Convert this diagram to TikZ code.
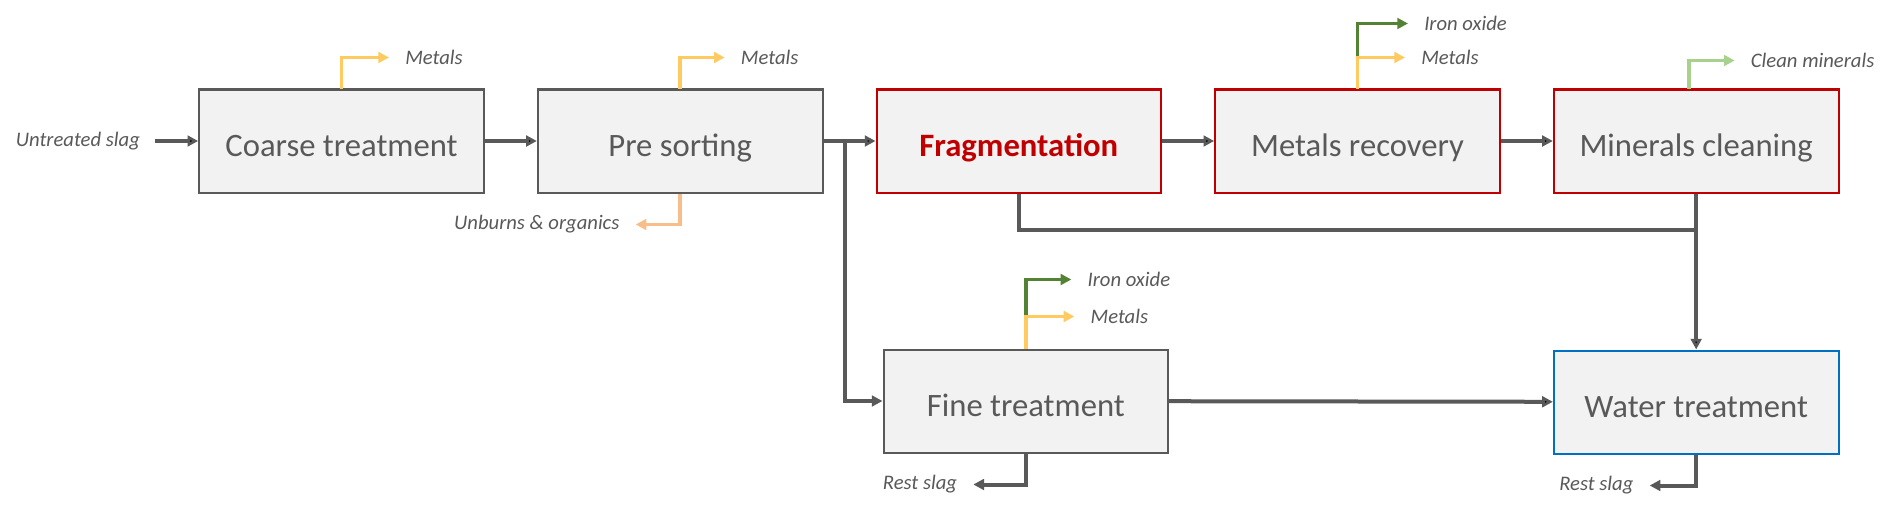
\documentclass[tikz,border=0pt]{standalone}
\usepackage{fontspec}
\setmainfont{Carlito}
\usepackage{xcolor}
\usepackage{tikz}
\usetikzlibrary{arrows.meta, positioning, calc}

\definecolor{boxfill}{HTML}{F2F2F2}
\definecolor{flowgray}{HTML}{595959}
\definecolor{fragred}{HTML}{C00000}
\definecolor{waterblue}{HTML}{0070C0}
\definecolor{metalyellow}{HTML}{FFCA5F}
\definecolor{irongreen}{HTML}{548235}
\definecolor{cleangreen}{HTML}{A9D18E}
\definecolor{unburnorange}{HTML}{F7BE8C}

\begin{document}
\begin{tikzpicture}[x=0.75pt,y=-0.75pt,>={Triangle[length=8pt,width=8pt]},
		node distance=39pt,
		process box/.style={draw=flowgray,line width=1.5pt,fill=boxfill,minimum width=213.5pt,
			minimum height=77.25pt,inner sep=0pt,text height=22.5pt,text depth=0pt,
			text=flowgray,font=\fontsize{24.5}{28}\selectfont},
		red box/.style={process box,draw=fragred},
		blue box/.style={process box,draw=waterblue},
		out label/.style={inner sep=0pt,text=flowgray,font=\fontsize{15.5}{18}\selectfont\itshape},
		flow/.style={draw=flowgray,line width=3pt},
		side/.style={line width=2.6pt,->,shorten >=12pt}]
		
		\useasboundingbox (0,0) rectangle (1901,510);
		
		\node[process box] (coarse) at (341.5,141) {Coarse treatment};
		\node[process box] (pre) [right=of coarse] {Pre sorting};
		\node[red box,text=fragred,font=\fontsize{24.5}{28}\selectfont\bfseries] (frag) [right=of pre] {Fragmentation};
		\node[red box] (metrec) [right=of frag] {Metals recovery};
		\node[red box] (minclean) [right=of metrec] {Minerals cleaning};
		\node[process box] (fine) [below=116.25pt of frag,xshift=5.25pt] {Fine treatment};
		\node[blue box] (water) [below=117pt of minclean] {Water treatment};
		
		\node[out label] (slag) [left=43.5pt of coarse] {Untreated slag};
		\node[out label,anchor=west] (metA) at ([shift={(63.5,-31)}]coarse.north) {Metals};
		\node[out label,anchor=west] (metB) at ([shift={(60.5,-31)}]pre.north) {Metals};
		\node[out label,anchor=east] (unburn) at ([shift={(-60.5,31)}]pre.south) {Unburns \& organics};
		\node[out label,anchor=west] (ironA) at ([shift={(66.5,-65)}]metrec.north) {Iron oxide};
		\node[out label,anchor=west] (metC) at ([shift={(63.5,-31)}]metrec.north) {Metals};
		\node[out label,anchor=west] (clean) at ([shift={(54.5,-28)}]minclean.north) {Clean minerals};
		\node[out label,anchor=west] (ironB) at ([shift={(61.5,-69)}]fine.north) {Iron oxide};
		\node[out label,anchor=west] (metD) at ([shift={(64.5,-32)}]fine.north) {Metals};
		\node[out label,anchor=east] (restA) at ([shift={(-68.5,31)}]fine.south) {Rest slag};
		\node[out label,anchor=east] (restB) at ([shift={(-62.5,31)}]water.south) {Rest slag};
		
		\coordinate (split) at ($(pre.east)!0.42!(frag.west)$);
		\coordinate (join) at ([yshift=-27pt]minclean.south);
		\coordinate (cleanfoot) at ([xshift=-5.5pt]minclean.north);
		
		\path[flow,->]
		(slag) edge[shorten <=11pt] (coarse)
		(coarse) edge (pre)
		(pre) edge (frag)
		(frag) edge (metrec)
		(metrec) edge (minclean)
		(minclean) edge (water)
		(fine) edge (water);
		
		\draw[flow] (frag.south) |- (join);
		\draw[flow,->] (split) |- (fine.west);
		\draw[flow,side,line width=3pt] (fine.south) |- (restA.east);
		\draw[flow,side,line width=3pt] (water.south) |- (restB.east);
		
		\draw[side,metalyellow] (coarse.north) |- (metA.west);
		\draw[side,metalyellow] (pre.north) |- (metB.west);
		\draw[side,unburnorange] (pre.south) |- (unburn.east);
		\draw[side,irongreen] (metrec.north) |- (ironA.west);
		\draw[side,metalyellow] (metrec.north) |- (metC.west);
		\draw[side,cleangreen] (cleanfoot) |- (clean.west);
		\draw[side,irongreen] (fine.north) |- (ironB.west);
		\draw[side,metalyellow] (fine.north) |- (metD.west);
		
	\end{tikzpicture}
\end{document}
